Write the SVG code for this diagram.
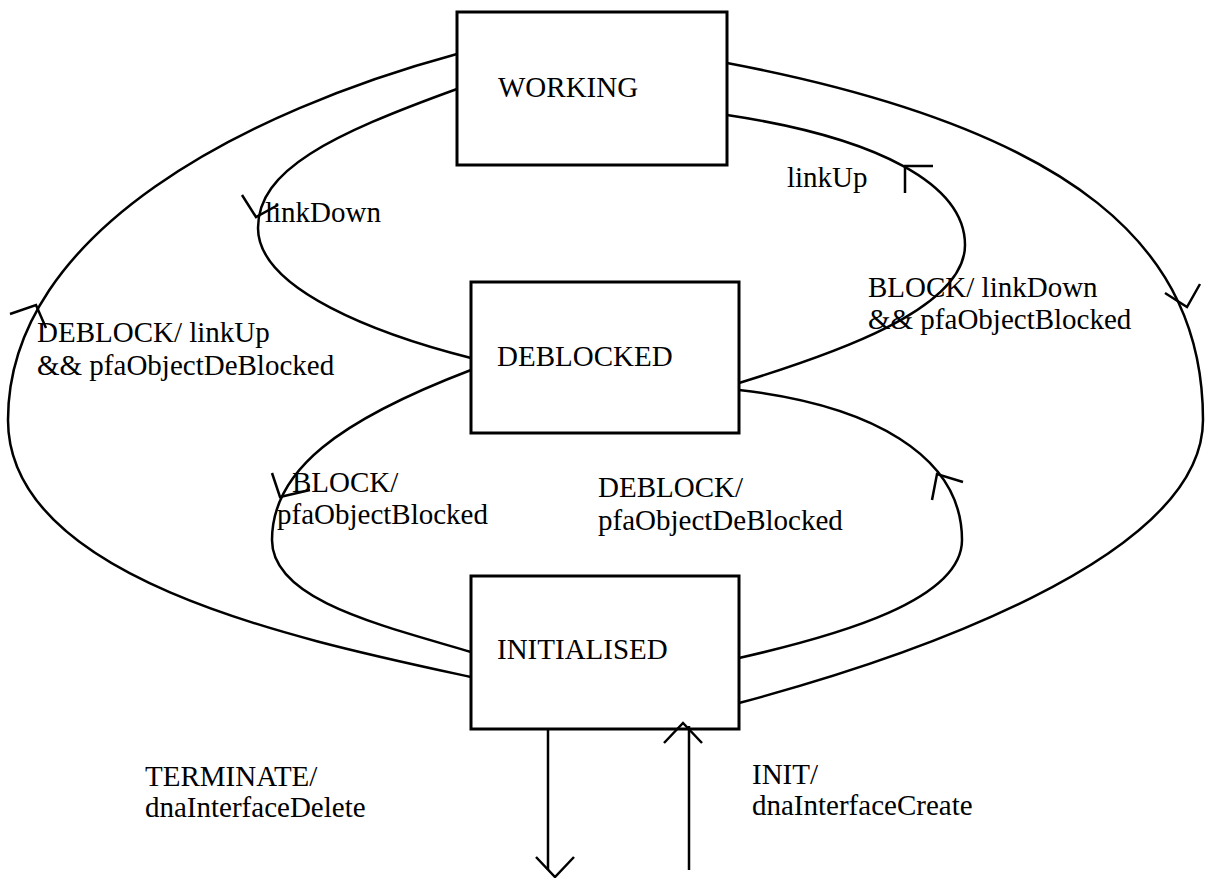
<svg xmlns="http://www.w3.org/2000/svg" width="1205" height="878" viewBox="0 0 1205 878">
  <style>
    .state { fill: #ffffff; stroke: #000000; stroke-width: 3; }
    .edge { fill: none; stroke: #000000; stroke-width: 2.5; }
    .head { fill: none; stroke: #000000; stroke-width: 2.5; stroke-linejoin: miter; }
    text { font-family: "Liberation Serif", "Times New Roman", serif; font-size: 29px; fill: #000000; }
  </style>
  <rect width="1205" height="878" fill="#ffffff"/>

  <g id="working">
    <rect class="state" x="457" y="12" width="270" height="153"/>
    <text x="498" y="97">WORKING</text>
  </g>
  <g id="deblocked">
    <rect class="state" x="471" y="282" width="268" height="151"/>
    <text x="497" y="366">DEBLOCKED</text>
  </g>
  <g id="initialised">
    <rect class="state" x="471" y="576" width="268" height="153"/>
    <text x="497" y="659">INITIALISED</text>
  </g>

  <!-- transitions -->
  <g id="connectors">
    <!-- WORKING -> INITIALISED (outer right) -->
    <path class="edge" d="M727,63 C1080,130 1203,250 1203,420 C1203,560 900,660 739,703"/>
    <polyline class="head" points="1165,293 1187,307 1200,284"/>
    <!-- INITIALISED -> WORKING (outer left) -->
    <path class="edge" d="M457,54 C250,110 8,230 8,420 C8,580 300,640 471,677"/>
    <polyline class="head" points="10,314 36,305 46,328"/>
    <!-- WORKING -> DEBLOCKED (linkDown) -->
    <path class="edge" d="M457,89 C330,135 258,170 258,228 C258,290 380,335 471,358"/>
    <polyline class="head" points="242,195 256,217 278,205"/>
    <!-- DEBLOCKED -> WORKING (linkUp) -->
    <path class="edge" d="M727,115 C880,138 965,185 965,245 C965,310 830,355 739,383"/>
    <polyline class="head" points="933,166 905,166 905,193"/>
    <!-- DEBLOCKED -> INITIALISED -->
    <path class="edge" d="M471,370 C340,420 272,470 272,540 C272,600 380,625 471,652"/>
    <polyline class="head" points="272,473 280,497 310,490"/>
    <!-- INITIALISED -> DEBLOCKED -->
    <path class="edge" d="M739,390 C870,405 962,455 962,540 C962,600 840,635 739,658"/>
    <polyline class="head" points="963,482 937,474 932,500"/>
    <!-- TERMINATE -->
    <line class="edge" x1="548" y1="729" x2="548" y2="870"/>
    <polyline class="head" points="536,857 555,877 574,857"/>
    <!-- INIT -->
    <line class="edge" x1="689" y1="870" x2="689" y2="726"/>
    <polyline class="head" points="664,743 683,723 702,743"/>
  </g>

  <!-- transition labels -->
  <g id="labels">
    <text x="265" y="222">linkDown</text>
    <text x="787" y="187">linkUp</text>
    <text x="868" y="297">BLOCK/ linkDown</text>
    <text x="868" y="329">&amp;&amp; pfaObjectBlocked</text>
    <text x="37" y="342">DEBLOCK/ linkUp</text>
    <text x="37" y="375">&amp;&amp; pfaObjectDeBlocked</text>
    <text x="292" y="492">BLOCK/</text>
    <text x="277" y="524">pfaObjectBlocked</text>
    <text x="598" y="497">DEBLOCK/</text>
    <text x="598" y="530">pfaObjectDeBlocked</text>
    <text x="145" y="786">TERMINATE/</text>
    <text x="145" y="817">dnaInterfaceDelete</text>
    <text x="752" y="784">INIT/</text>
    <text x="752" y="815">dnaInterfaceCreate</text>
  </g>
</svg>
